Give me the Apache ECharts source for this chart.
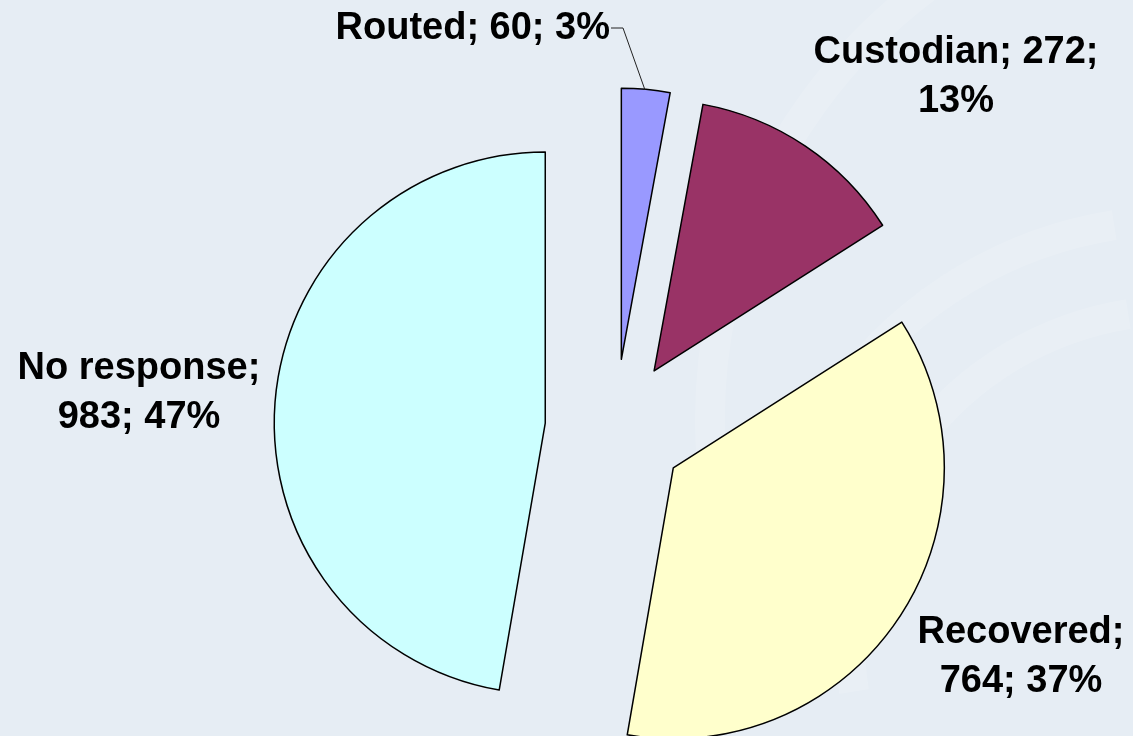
<!DOCTYPE html>
<html>
<head>
<meta charset="utf-8">
<script src="https://cdn.jsdelivr.net/npm/echarts@6/dist/echarts.min.js"></script>
<style>
html,body{margin:0;padding:0;background:#E6EDF4;}
#c{width:1133px;height:736px;}
</style>
</head>
<body>
<div id="c"></div>
<script>
// Data
const categories = ['Routed', 'Custodian', 'Recovered', 'No response'];
const values = [60, 272, 764, 983];
const colors = ['#9999FF', '#993366', '#FFFFCC', '#CCFFFF'];

// Label placement (layout only)
const labelPos = [
  { x: 610, y: 29, align: 'right', line: [[645, 90], [623, 28], [611, 28]] },
  { x: 956, y: 77, align: 'center' },
  { x: 1021, y: 657, align: 'center' },
  { x: 139, y: 393, align: 'center' }
];

// percentages with largest-remainder rounding (same as ECharts percentPrecision 0)
function percents(vals) {
  const tot = vals.reduce(function (a, b) { return a + b; }, 0);
  const raw = vals.map(function (v) { return v / tot * 100; });
  const fl = raw.map(Math.floor);
  let rest = 100 - fl.reduce(function (a, b) { return a + b; }, 0);
  const order = raw.map(function (r, i) { return [r - fl[i], i]; }).sort(function (a, b) { return b[0] - a[0]; });
  for (let k = 0; k < rest; k++) fl[order[k][1]]++;
  return fl;
}
const pct = percents(values);

function labelText(i) {
  const n = categories[i], v = values[i], d = pct[i];
  if (i === 0) return n + '; ' + v + '; ' + d + '%';
  if (i === 1) return n + '; ' + v + ';\n' + d + '%';
  return n + ';\n' + v + '; ' + d + '%';
}

const chart = echarts.init(document.getElementById('c'), null, { renderer: 'canvas' });

const graphics = [];
// faint background swirl
[[1180, 640, 420], [1180, 640, 330], [1250, 420, 540]].forEach(function (a) {
  graphics.push({
    type: 'arc', silent: true, z: -10,
    shape: { cx: a[0], cy: a[1], r: a[2], startAngle: Math.PI * 0.95, endAngle: Math.PI * 1.45 },
    style: { stroke: 'rgba(255,255,255,0.13)', lineWidth: 30, fill: null }
  });
});

labelPos.forEach(function (lp, i) {
  graphics.push({
    type: 'text', silent: true, z: 100,
    x: lp.x, y: lp.y,
    style: {
      text: labelText(i),
      fill: '#000',
      fontFamily: 'Liberation Sans, Arial, sans-serif',
      fontWeight: 'bold',
      fontSize: 38,
      lineHeight: 49,
      align: lp.align,
      verticalAlign: 'middle'
    }
  });
  if (lp.line) {
    graphics.push({
      type: 'polyline', silent: true, z: 100,
      shape: { points: lp.line },
      style: { stroke: '#222', lineWidth: 1, fill: null }
    });
  }
});

chart.setOption({
  animation: false,
  backgroundColor: '#E6EDF4',
  graphic: graphics,
  series: [{
    type: 'pie',
    center: [615, 429],
    radius: 271,
    startAngle: 90,
    clockwise: true,
    percentPrecision: 0,
    avoidLabelOverlap: false,
    selectedMode: 'multiple',
    selectedOffset: 70,
    emphasis: { disabled: true },
    itemStyle: { borderColor: '#000', borderWidth: 1.5 },
    select: { itemStyle: { borderColor: '#000', borderWidth: 1.5 } },
    label: { show: false },
    labelLine: { show: false },
    data: categories.map(function (c, i) {
      return {
        name: c,
        value: values[i],
        selected: true,
        itemStyle: { color: colors[i] }
      };
    })
  }]
});
</script>
</body>
</html>
